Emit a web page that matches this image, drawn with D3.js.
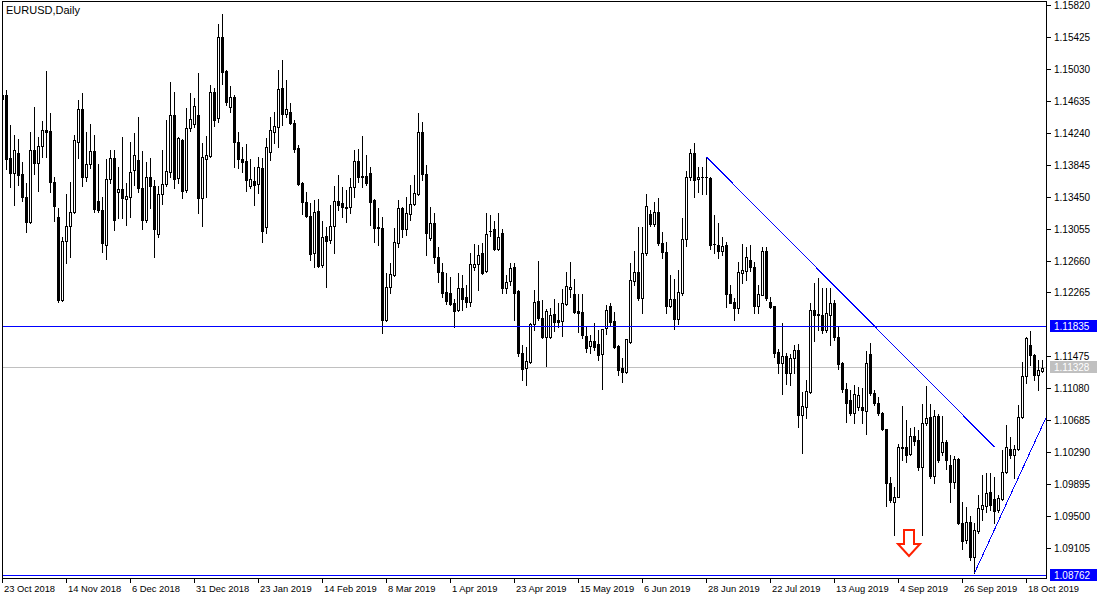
<!DOCTYPE html>
<html><head><meta charset="utf-8">
<script src="https://cdn.jsdelivr.net/npm/d3@7"></script>
<style>html,body{margin:0;padding:0;background:#fff;overflow:hidden}</style>
</head><body><svg id="c" width="1100" height="600"></svg>
<script>
const chartTitle = "EURUSD,Daily";
const openP = [1.14658,1.14707,1.13928,1.13743,1.13990,1.13731,1.13445,1.13136,1.14027,1.13866,1.14077,1.14274,1.14262,1.13631,1.13198,1.12172,1.12902,1.13087,1.13260,1.14126,1.14534,1.13693,1.13854,1.14015,1.13397,1.13285,1.12852,1.13669,1.13928,1.13507,1.13545,1.13421,1.13445,1.13780,1.13903,1.13557,1.13161,1.13693,1.13582,1.12989,1.13483,1.13607,1.13755,1.14460,1.13681,1.14151,1.13532,1.14299,1.14349,1.14460,1.13433,1.13916,1.13953,1.14744,1.14423,1.15424,1.15004,1.14558,1.14682,1.14126,1.13916,1.13891,1.13582,1.13644,1.13607,1.13804,1.13074,1.14002,1.14249,1.14311,1.14794,1.14473,1.14497,1.14361,1.14052,1.13619,1.13384,1.13211,1.12753,1.13273,1.12605,1.12964,1.12914,1.13087,1.13397,1.13372,1.13322,1.13322,1.13569,1.13891,1.13706,1.13706,1.13743,1.13409,1.13074,1.13062,1.11925,1.12332,1.12481,1.12877,1.13310,1.13050,1.13236,1.13360,1.13483,1.14249,1.13731,1.12939,1.13124,1.12703,1.12518,1.12271,1.12259,1.12135,1.12048,1.12320,1.12209,1.12147,1.12580,1.12618,1.12753,1.12531,1.13026,1.13050,1.12803,1.13001,1.12320,1.12407,1.12580,1.12284,1.11517,1.11331,1.11405,1.11876,1.12160,1.11950,1.11714,1.11714,1.11999,1.11925,1.11913,1.12123,1.12308,1.12247,1.12036,1.12023,1.11727,1.11603,1.11665,1.11628,1.11505,1.11826,1.12098,1.11913,1.11603,1.11331,1.11281,1.11652,1.12407,1.12518,1.12197,1.12753,1.13236,1.13112,1.13260,1.12877,1.12765,1.12098,1.12185,1.11938,1.12259,1.12926,1.13693,1.13990,1.13669,1.13693,1.13693,1.13681,1.12865,1.12852,1.12778,1.12852,1.12247,1.12147,1.12073,1.12506,1.12531,1.12667,1.12580,1.12098,1.12234,1.12778,1.12147,1.12098,1.11529,1.11393,1.11480,1.11269,1.11455,1.11554,1.10750,1.10849,1.11034,1.12048,1.11999,1.11987,1.11801,1.11987,1.12135,1.11714,1.11393,1.11071,1.10935,1.10775,1.10849,1.10849,1.10800,1.11505,1.11022,1.10898,1.10775,1.10576,1.09909,1.09674,1.09736,1.10342,1.10354,1.10268,1.10490,1.10441,1.10107,1.10651,1.10725,1.09996,1.10738,1.10292,1.10416,1.10131,1.09921,1.10205,1.09414,1.09204,1.09426,1.08994,1.09316,1.09587,1.09625,1.09797,1.09711,1.09575,1.09711,1.10045,1.10329,1.10255,1.10329,1.10725,1.11232,1.11615,1.11492,1.11244,1.11294];
const highP = [1.14744,1.14769,1.14336,1.14212,1.14163,1.13878,1.13619,1.14249,1.14558,1.14187,1.14386,1.15004,1.14485,1.13693,1.13310,1.12951,1.13483,1.13631,1.14212,1.14645,1.14732,1.14249,1.14349,1.14212,1.13854,1.13445,1.13916,1.14027,1.14027,1.13816,1.14187,1.13619,1.14126,1.14237,1.14435,1.14015,1.13878,1.13928,1.13656,1.13582,1.14027,1.14398,1.14868,1.14744,1.14187,1.14163,1.14546,1.14732,1.14670,1.14979,1.14114,1.14200,1.14831,1.14794,1.15586,1.15709,1.15016,1.14819,1.14707,1.14249,1.14064,1.14102,1.13916,1.13816,1.13940,1.13928,1.14175,1.14435,1.14497,1.15016,1.15140,1.14893,1.14608,1.14398,1.14089,1.13631,1.13507,1.13372,1.13409,1.13421,1.13149,1.13074,1.13347,1.13582,1.13718,1.13569,1.13532,1.13681,1.14027,1.14040,1.14200,1.13965,1.13816,1.13421,1.13310,1.13198,1.12506,1.12630,1.13062,1.13409,1.13322,1.13445,1.13594,1.13718,1.14485,1.14373,1.13841,1.13322,1.13248,1.12827,1.12630,1.12506,1.12456,1.12185,1.12506,1.12481,1.12357,1.12753,1.12865,1.12852,1.12877,1.13248,1.13223,1.13149,1.13248,1.13050,1.12481,1.12630,1.12630,1.12296,1.11615,1.11590,1.11888,1.12296,1.12655,1.12172,1.12061,1.12073,1.12185,1.12135,1.12308,1.12518,1.12642,1.12431,1.12247,1.12247,1.11838,1.11739,1.11888,1.11801,1.11814,1.12110,1.12135,1.12023,1.11615,1.11455,1.11689,1.12630,1.12778,1.13074,1.13074,1.13483,1.13285,1.13384,1.13433,1.13013,1.12889,1.12481,1.12431,1.12543,1.13186,1.13768,1.14040,1.14114,1.13816,1.13816,1.13940,1.13690,1.13223,1.13124,1.12951,1.12889,1.12357,1.12197,1.12642,1.12865,1.12827,1.12852,1.12642,1.12357,1.12827,1.12827,1.12209,1.12098,1.11566,1.11888,1.11517,1.11505,1.11615,1.11628,1.11034,1.11183,1.12135,1.12382,1.12444,1.12320,1.12320,1.12320,1.12172,1.11838,1.11400,1.11146,1.11059,1.11121,1.11096,1.11084,1.11542,1.11640,1.11059,1.10972,1.10787,1.10580,1.09983,1.09859,1.10392,1.10861,1.10688,1.10589,1.10601,1.10564,1.10886,1.11108,1.10886,1.10812,1.10763,1.10738,1.10441,1.10255,1.10243,1.10218,1.09674,1.09612,1.09501,1.09414,1.09761,1.10008,1.10033,1.10033,1.09983,1.09761,1.10317,1.10626,1.10478,1.10379,1.10873,1.11405,1.11714,1.11789,1.11500,1.11430,1.11430];
const lowP = [1.14633,1.13792,1.13569,1.13347,1.13594,1.13397,1.13013,1.13124,1.13731,1.13520,1.13940,1.13940,1.13507,1.13149,1.12147,1.12160,1.12630,1.12703,1.13248,1.13928,1.13582,1.13644,1.13804,1.13260,1.13260,1.12765,1.12679,1.13619,1.13038,1.13186,1.13186,1.13099,1.13198,1.13594,1.13507,1.13050,1.13136,1.13310,1.12703,1.12951,1.13360,1.13582,1.13693,1.13557,1.13619,1.13433,1.13507,1.14262,1.14311,1.13248,1.13087,1.13445,1.13940,1.14324,1.14373,1.14844,1.14583,1.14497,1.13816,1.13804,1.13755,1.13520,1.13557,1.13347,1.13495,1.12889,1.13001,1.13903,1.14114,1.14064,1.14336,1.14435,1.14349,1.14002,1.13594,1.13236,1.13198,1.12667,1.12580,1.12580,1.12580,1.12332,1.12877,1.12753,1.13285,1.13198,1.13136,1.13248,1.13445,1.13631,1.13569,1.13594,1.13099,1.12889,1.12852,1.11764,1.11913,1.12259,1.12469,1.12827,1.12951,1.12976,1.13161,1.13347,1.13470,1.13656,1.12728,1.12914,1.12630,1.12394,1.12209,1.12123,1.12110,1.11838,1.12036,1.12048,1.12085,1.12098,1.12543,1.12296,1.12494,1.12518,1.12964,1.12790,1.12790,1.12259,1.12259,1.12357,1.11925,1.11480,1.11183,1.11121,1.11393,1.11801,1.11925,1.11702,1.11356,1.11702,1.11789,1.11838,1.11727,1.12110,1.12209,1.12011,1.11776,1.11702,1.11529,1.11517,1.11554,1.11430,1.11071,1.11752,1.11863,1.11579,1.11244,1.11158,1.11269,1.11640,1.12357,1.12172,1.12011,1.12728,1.13087,1.13087,1.12852,1.12691,1.12011,1.12085,1.11814,1.11876,1.12234,1.12840,1.13656,1.13445,1.13507,1.13483,1.13483,1.12803,1.12753,1.12691,1.12728,1.12085,1.12135,1.11925,1.12011,1.12382,1.12419,1.12531,1.12011,1.12011,1.12234,1.12172,1.12073,1.11467,1.11269,1.11010,1.11133,1.11121,1.11269,1.10601,1.10280,1.10713,1.11022,1.11665,1.11801,1.11764,1.11776,1.11615,1.11677,1.11319,1.11034,1.10663,1.10750,1.10651,1.10812,1.10651,1.10515,1.10997,1.10873,1.10750,1.10564,1.09625,1.09674,1.09266,1.09730,1.10193,1.10168,1.10255,1.10379,1.10070,1.09266,1.10626,1.09971,1.09909,1.10168,1.10255,1.10082,1.09674,1.09847,1.09405,1.09093,1.09167,1.08957,1.08796,1.09291,1.09451,1.09550,1.09575,1.09414,1.09550,1.09699,1.10033,1.10218,1.09971,1.10317,1.10713,1.11146,1.11368,1.11183,1.11059,1.11281];
const closeP = [1.14707,1.13916,1.13743,1.14027,1.13718,1.13445,1.13136,1.14027,1.13866,1.14077,1.14274,1.14249,1.13631,1.13335,1.12172,1.12902,1.13087,1.13260,1.14151,1.14534,1.13693,1.13854,1.14015,1.13298,1.13285,1.12877,1.13669,1.13928,1.13161,1.13545,1.13433,1.13458,1.13755,1.13965,1.13557,1.13161,1.13693,1.13582,1.13050,1.13483,1.13607,1.13768,1.14460,1.13669,1.14175,1.13520,1.14299,1.14411,1.14571,1.13433,1.13940,1.13965,1.14744,1.14398,1.15424,1.14991,1.14620,1.14682,1.14126,1.13916,1.13878,1.13656,1.13669,1.13594,1.13816,1.13026,1.14064,1.14274,1.14324,1.14782,1.14473,1.14534,1.14361,1.14040,1.13607,1.13384,1.13211,1.12741,1.13260,1.12593,1.12951,1.12902,1.13087,1.13397,1.13347,1.13322,1.13310,1.13569,1.13891,1.13693,1.13693,1.13619,1.13384,1.13062,1.13062,1.11925,1.12332,1.12494,1.12889,1.13310,1.13050,1.13248,1.13360,1.13495,1.14249,1.13731,1.13001,1.13124,1.12703,1.12518,1.12259,1.12160,1.12123,1.12036,1.12320,1.12185,1.12147,1.12618,1.12618,1.12728,1.12506,1.12989,1.13020,1.12803,1.12951,1.12320,1.12394,1.12568,1.12259,1.11517,1.11319,1.11418,1.11876,1.12147,1.11950,1.11714,1.12036,1.11987,1.11900,1.11900,1.12135,1.12345,1.12332,1.12023,1.12011,1.11739,1.11579,1.11665,1.11590,1.11492,1.11814,1.12048,1.11900,1.11590,1.11306,1.11281,1.11689,1.12419,1.12518,1.12197,1.12753,1.13335,1.13112,1.13260,1.12877,1.12765,1.12098,1.12185,1.11938,1.12271,1.12926,1.13693,1.13990,1.13656,1.13693,1.13690,1.13688,1.12852,1.12860,1.12778,1.12840,1.12247,1.12135,1.12073,1.12518,1.12543,1.12703,1.12580,1.12098,1.12247,1.12778,1.12197,1.12085,1.11517,1.11393,1.11480,1.11269,1.11455,1.11554,1.10750,1.10861,1.11047,1.12048,1.11987,1.11990,1.11801,1.12011,1.12135,1.11714,1.11381,1.11071,1.10898,1.10775,1.11010,1.10997,1.10812,1.11393,1.11022,1.10898,1.10775,1.10576,1.09909,1.09699,1.09736,1.10354,1.10354,1.10255,1.10490,1.10429,1.10107,1.10651,1.10713,1.09996,1.10738,1.10193,1.10416,1.10193,1.09921,1.10205,1.09414,1.09192,1.09426,1.08994,1.09328,1.09600,1.09637,1.09785,1.09637,1.09563,1.09723,1.10045,1.10354,1.10255,1.10329,1.10725,1.11232,1.11702,1.11492,1.11244,1.11306,1.11328];
const priceTicks = [1.15820,1.15425,1.15030,1.14635,1.14240,1.13845,1.13450,1.13055,1.12660,1.12265,1.11475,1.11080,1.10685,1.10290,1.09895,1.09500,1.09105];
const dateTickLabels = ["23 Oct 2018","14 Nov 2018","6 Dec 2018","31 Dec 2018","23 Jan 2019","14 Feb 2019","8 Mar 2019","1 Apr 2019","23 Apr 2019","15 May 2019","6 Jun 2019","28 Jun 2019","22 Jul 2019","13 Aug 2019","4 Sep 2019","26 Sep 2019","18 Oct 2019"];
const noTradeDays = ["2018-12-25","2019-01-01"];
const blueLevels = [1.11835, 1.08762];
const bidPrice = 1.11328;
const downTrend = [[176, 1.13940], [248, 1.10354]];
const upTrend = [[243, 1.08796], [256, 1.10193]];
const arrowMark = [227, 1.09328];

// trading calendar (categories)
const dates = [];
{ const d = new Date(Date.UTC(2018, 9, 23));
  while (dates.length < openP.length) {
    const wd = d.getUTCDay(), iso = d.toISOString().slice(0, 10);
    if (wd !== 0 && wd !== 6 && !noTradeDays.includes(iso)) dates.push(new Date(d));
    d.setUTCDate(d.getUTCDate() + 1);
  } }
const fmtDate = d3.utcFormat("%-d %b %Y");
const dateStr = dates.map(fmtDate);

const W = 1100, H = 600;
const plotL = 2, plotR = 1046, plotT = 1, plotB = 578;
const svg = d3.select("#c");
svg.append("rect").attr("width", W).attr("height", H).attr("fill", "#fff");

const n = openP.length;
const x = d3.scaleLinear().domain([0, n - 1]).range([2.5, 2.5 + 4 * (n - 1)]);
const y = d3.scaleLinear().domain([1.09105, 1.15820]).range([548, 5]);
const yr = v => Math.round(y(v));
const yl = v => Math.floor(y(v) - 0.5);   // pixel row of a horizontal level line

svg.append("clipPath").attr("id", "clip").append("rect")
  .attr("x", plotL).attr("y", plotT).attr("width", plotR - plotL).attr("height", plotB - plotT);
const g = svg.append("g").attr("clip-path", "url(#clip)").attr("shape-rendering", "crispEdges");

// bid line (behind bars)
g.append("line").attr("x1", plotL).attr("x2", plotR).attr("y1", yl(bidPrice) + 0.5).attr("y2", yl(bidPrice) + 0.5)
  .attr("stroke", "#c0c0c0").attr("stroke-width", 1);

// candles
const candles = g.append("g");
d3.range(n).forEach(i => {
  const cx = x(i);
  const hi = yr(highP[i]), lo = yr(lowP[i]);
  const o = openP[i], c = closeP[i];
  const top = yr(Math.max(o, c)), bot = yr(Math.min(o, c));
  candles.append("rect").attr("x", cx - 0.5).attr("width", 1).attr("y", hi).attr("height", lo - hi + 1).attr("fill", "#000");
  candles.append("rect").attr("x", cx - 1.5).attr("width", 3).attr("y", top).attr("height", bot - top + 1).attr("fill", "#000");
  if (c > o && bot - top - 1 > 0) {
    candles.append("rect").attr("x", cx - 0.5).attr("width", 1).attr("y", top + 1).attr("height", bot - top - 1).attr("fill", "#fff");
  }
});

// horizontal blue levels (objects over bars)
blueLevels.forEach(v => g.append("line").attr("x1", plotL).attr("x2", plotR)
  .attr("y1", yl(v) + 0.5).attr("y2", yl(v) + 0.5).attr("stroke", "#0000ff").attr("stroke-width", 1));

// trend lines
g.append("line").attr("x1", x(downTrend[0][0])).attr("y1", y(downTrend[0][1]))
  .attr("x2", x(downTrend[1][0])).attr("y2", y(downTrend[1][1]))
  .attr("stroke", "#0000ff").attr("stroke-width", 1);
{ const [a, b] = upTrend; const slope = (b[1] - a[1]) / (b[0] - a[0]);
  const endI = x.invert(plotR + 2);
  g.append("line").attr("x1", x(a[0])).attr("y1", y(a[1]))
    .attr("x2", x(endI)).attr("y2", y(a[1] + slope * (endI - a[0])))
    .attr("stroke", "#0000ff").attr("stroke-width", 1); }

// arrow
{ const ax = x(arrowMark[0]) - 1.5, ay = y(arrowMark[1]);
  const pts = [[-5, 0], [5, 0], [5, 14], [11, 14], [0, 26], [-11, 14], [-5, 14]];
  svg.append("path").attr("d", "M" + pts.map(p => [ax + p[0], ay + p[1]].join(",")).join("L") + "Z")
    .attr("fill", "#fff").attr("stroke", "#ff2000").attr("stroke-width", 2).attr("stroke-linejoin", "miter");
}

// frame
svg.append("rect").attr("x", plotL + 0.5).attr("y", plotT + 0.5).attr("width", plotR - plotL).attr("height", plotB - plotT)
  .attr("fill", "none").attr("stroke", "#000").attr("shape-rendering", "crispEdges");

const font = "'Liberation Sans', Arial, sans-serif";
// price axis
const ax = svg.append("g").attr("font-family", font).attr("font-size", 10).attr("shape-rendering", "crispEdges");
priceTicks.forEach(v => {
  const ty = yr(v);
  ax.append("rect").attr("x", plotR + 1).attr("y", ty).attr("width", 4).attr("height", 1).attr("fill", "#000");
  ax.append("text").attr("x", plotR + 8).attr("y", ty + 4).attr("fill", "#000").text(v.toFixed(5));
});
function boxLabel(v, bg) {
  const ty = yl(v);
  ax.append("rect").attr("x", plotR + 4).attr("y", ty - 6).attr("width", 47).attr("height", 12).attr("fill", bg);
  ax.append("text").attr("x", plotR + 8).attr("y", ty + 4).attr("fill", "#fff").text(v.toFixed(5));
}
boxLabel(bidPrice, "#c0c0c0");
blueLevels.forEach(v => boxLabel(v, "#0000ff"));

// date axis
dateTickLabels.forEach(lbl => {
  const i = dateStr.indexOf(lbl);
  if (i < 0) return;
  const tx = Math.round(x(i) - 0.5);
  ax.append("rect").attr("x", tx).attr("y", plotB + 1).attr("width", 1).attr("height", 4).attr("fill", "#000");
  ax.append("text").attr("x", tx + 2).attr("y", plotB + 14).attr("font-size", 9.4).attr("fill", "#000").text(lbl);
});

// title
svg.append("text").attr("x", 6).attr("y", 14).attr("font-family", font).attr("font-size", 11).attr("fill", "#000").text(chartTitle);
</script></body></html>
